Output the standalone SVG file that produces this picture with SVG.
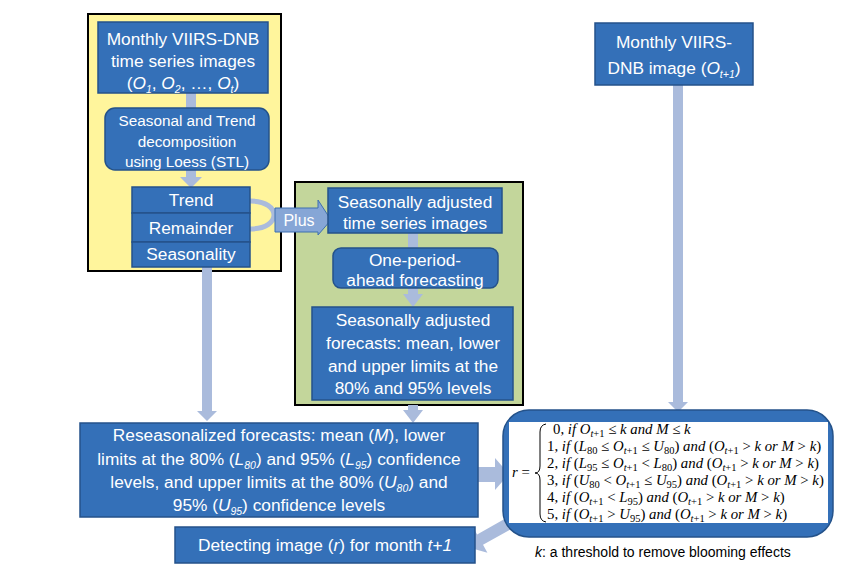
<svg xmlns="http://www.w3.org/2000/svg" width="865" height="579" viewBox="0 0 865 579">
<style>
.box{fill:#3470b8;stroke:#24528a;stroke-width:1.5}
.t{font-family:"Liberation Sans",Arial,sans-serif;fill:#fff;text-anchor:middle}
.f16{font-size:17.3px}
.f15{font-size:15.3px}
.arr{fill:#aabbdc;stroke:none}
.m{font-family:"Liberation Serif","Times New Roman",serif;font-size:14.8px;fill:#000}
.i{font-style:italic}
.s{font-size:10.5px}
</style>
<rect width="865" height="579" fill="#fff"/>
<g id="yellow-panel"><rect x="88" y="14" width="193" height="257" fill="#fff59c" stroke="#000" stroke-width="2"/></g>
<g id="green-panel"><rect x="295" y="182" width="228" height="223" fill="#c3d69b" stroke="#000" stroke-width="2"/></g>
<g id="connectors">
<rect class="arr" x="186" y="93" width="10" height="16"/>
<polygon class="arr" points="186,170 196,170 196,177 202,177 191,188 180,177 186,177"/>
<path d="M250,201 C282,201 282,229 250,229" fill="none" stroke="#aabbdc" stroke-width="5"/>
<polygon class="arr" points="202,267 212,267 212,411 217,411 207,421 197,411 202,411"/>
<polygon class="arr" points="673,85 683,85 683,402 688,402 678,412 668,402 673,402"/>
<rect class="arr" x="408" y="233" width="10" height="16"/>
<polygon class="arr" points="408,288 418,288 418,294 423,294 413,307 403,294 408,294"/>
<polygon class="arr" points="408,405 418,405 418,410 423,410 413,423 403,410 408,410"/>
<polygon class="arr" points="478,467 495,467 495,458 509,474 495,490 495,482 478,482"/>
<polygon class="arr" transform="translate(467,547) rotate(150.6)" points="0,0 -15,-15 -15,-6 -50,-6 -50,6 -15,6 -15,15"/>
<g id="plus">
<polygon points="275,208 318,208 318,200 331,220 318,235 318,232 275,232" fill="#86a6d6" stroke="#3d6fb0" stroke-width="1"/>
<text class="t" font-size="16" x="299" y="226">Plus</text>
</g>
</g>
<g id="n-monthly-series">
<rect class="box" x="98" y="22" width="170" height="71"/>
<text class="t f16" x="183" y="45">Monthly VIIRS-DNB</text>
<text class="t f16" x="183" y="67">time series images</text>
<text class="t f16" x="183" y="89">(<tspan class="i">O</tspan><tspan class="i s" dy="4">1</tspan><tspan dy="-4">, </tspan><tspan class="i">O</tspan><tspan class="i s" dy="4">2</tspan><tspan dy="-4">, …, </tspan><tspan class="i">O</tspan><tspan class="i s" dy="4">t</tspan><tspan dy="-4">)</tspan></text>
</g>
<g id="n-stl">
<rect class="box" x="105" y="108" width="164" height="62" rx="10"/>
<text class="t f15" x="187" y="126">Seasonal and Trend</text>
<text class="t f15" x="187" y="147">decomposition</text>
<text class="t f15" x="187" y="167">using Loess (STL)</text>
</g>
<g id="n-trend"><rect class="box" x="132" y="187" width="118" height="26"/><text class="t f16" x="191" y="206">Trend</text></g>
<g id="n-remainder"><rect class="box" x="132" y="213" width="118" height="29"/><text class="t f16" x="191" y="234">Remainder</text></g>
<g id="n-seasonality"><rect class="box" x="132" y="242" width="118" height="25"/><text class="t f16" x="191" y="260">Seasonality</text></g>
<g id="n-sa-series">
<rect class="box" x="328" y="188" width="174" height="45"/>
<text class="t f16" x="415" y="208">Seasonally adjusted</text>
<text class="t f16" x="415" y="229">time series images</text>
</g>
<g id="n-forecasting">
<rect class="box" x="333" y="248" width="165" height="40" rx="8"/>
<text class="t f16" x="415" y="266">One-period-</text>
<text class="t f16" x="415" y="286">ahead forecasting</text>
</g>
<g id="n-sa-forecasts">
<rect class="box" x="312" y="307" width="201" height="93"/>
<text class="t f16" x="413" y="326">Seasonally adjusted</text>
<text class="t f16" x="413" y="349">forecasts: mean, lower</text>
<text class="t f16" x="413" y="372">and upper limits at the</text>
<text class="t f16" x="413" y="394">80% and 95% levels</text>
</g>
<g id="n-monthly-next">
<rect class="box" x="595" y="23" width="158" height="62"/>
<text class="t f16" x="674" y="48">Monthly VIIRS-</text>
<text class="t f16" x="674" y="74">DNB image (<tspan class="i">O</tspan><tspan class="i s" dy="4">t+1</tspan><tspan dy="-4">)</tspan></text>
</g>
<g id="n-reseasonalized">
<rect class="box" x="80" y="423" width="398" height="94"/>
<text class="t f16" x="279" y="441">Reseasonalized forecasts: mean (<tspan class="i">M</tspan>), lower</text>
<text class="t f16" x="279" y="465">limits at the 80% (<tspan class="i">L</tspan><tspan class="i s" dy="4">80</tspan><tspan dy="-4">) and 95% (</tspan><tspan class="i">L</tspan><tspan class="i s" dy="4">95</tspan><tspan dy="-4">) confidence</tspan></text>
<text class="t f16" x="279" y="488">levels, and upper limits at the 80% (<tspan class="i">U</tspan><tspan class="i s" dy="4">80</tspan><tspan dy="-4">) and</tspan></text>
<text class="t f16" x="279" y="511">95% (<tspan class="i">U</tspan><tspan class="i s" dy="4">95</tspan><tspan dy="-4">) confidence levels</tspan></text>
</g>
<g id="n-detecting">
<rect class="box" x="175" y="527" width="300" height="36"/>
<text class="t f16" x="325" y="551">Detecting image (<tspan class="i">r</tspan>) for month <tspan class="i">t+1</tspan></text>
</g>
<g id="n-rule">
<rect class="box" x="503" y="410" width="330" height="127" rx="26" stroke-width="2"/>
<rect x="509" y="422" width="319" height="101" fill="#fff"/>
<text class="m" x="512" y="477"><tspan class="i">r</tspan> =</text>
<path d="M546,424 Q540,425 540,432 L540,466 Q540,473 535,473 Q540,473 540,480 L540,514 Q540,521 546,522" fill="none" stroke="#000" stroke-width="1"/>
<text class="m" x="553" y="434">0, <tspan class="i">if O</tspan><tspan class="s" dy="3"><tspan class="i">t</tspan>+1</tspan><tspan dy="-3"> ≤ </tspan><tspan class="i">k and M</tspan> ≤ <tspan class="i">k</tspan></text>
<text class="m" x="547" y="451">1, <tspan class="i">if</tspan> (<tspan class="i">L</tspan><tspan class="s" dy="3">80</tspan><tspan dy="-3"> ≤ </tspan><tspan class="i">O</tspan><tspan class="s" dy="3"><tspan class="i">t</tspan>+1</tspan><tspan dy="-3"> ≤ </tspan><tspan class="i">U</tspan><tspan class="s" dy="3">80</tspan><tspan dy="-3">) </tspan><tspan class="i">and</tspan> (<tspan class="i">O</tspan><tspan class="s" dy="3"><tspan class="i">t</tspan>+1</tspan><tspan dy="-3"> &gt; </tspan><tspan class="i">k or M</tspan> &gt; <tspan class="i">k</tspan>)</text>
<text class="m" x="547" y="468">2, <tspan class="i">if</tspan> (<tspan class="i">L</tspan><tspan class="s" dy="3">95</tspan><tspan dy="-3"> ≤ </tspan><tspan class="i">O</tspan><tspan class="s" dy="3"><tspan class="i">t</tspan>+1</tspan><tspan dy="-3"> &lt; </tspan><tspan class="i">L</tspan><tspan class="s" dy="3">80</tspan><tspan dy="-3">) </tspan><tspan class="i">and</tspan> (<tspan class="i">O</tspan><tspan class="s" dy="3"><tspan class="i">t</tspan>+1</tspan><tspan dy="-3"> &gt; </tspan><tspan class="i">k or M</tspan> &gt; <tspan class="i">k</tspan>)</text>
<text class="m" x="547" y="485">3, <tspan class="i">if</tspan> (<tspan class="i">U</tspan><tspan class="s" dy="3">80</tspan><tspan dy="-3"> &lt; </tspan><tspan class="i">O</tspan><tspan class="s" dy="3"><tspan class="i">t</tspan>+1</tspan><tspan dy="-3"> ≤ </tspan><tspan class="i">U</tspan><tspan class="s" dy="3">95</tspan><tspan dy="-3">) </tspan><tspan class="i">and</tspan> (<tspan class="i">O</tspan><tspan class="s" dy="3"><tspan class="i">t</tspan>+1</tspan><tspan dy="-3"> &gt; </tspan><tspan class="i">k or M</tspan> &gt; <tspan class="i">k</tspan>)</text>
<text class="m" x="547" y="502">4, <tspan class="i">if</tspan> (<tspan class="i">O</tspan><tspan class="s" dy="3"><tspan class="i">t</tspan>+1</tspan><tspan dy="-3"> &lt; </tspan><tspan class="i">L</tspan><tspan class="s" dy="3">95</tspan><tspan dy="-3">) </tspan><tspan class="i">and</tspan> (<tspan class="i">O</tspan><tspan class="s" dy="3"><tspan class="i">t</tspan>+1</tspan><tspan dy="-3"> &gt; </tspan><tspan class="i">k or M</tspan> &gt; <tspan class="i">k</tspan>)</text>
<text class="m" x="547" y="519">5, <tspan class="i">if</tspan> (<tspan class="i">O</tspan><tspan class="s" dy="3"><tspan class="i">t</tspan>+1</tspan><tspan dy="-3"> &gt; </tspan><tspan class="i">U</tspan><tspan class="s" dy="3">95</tspan><tspan dy="-3">) </tspan><tspan class="i">and</tspan> (<tspan class="i">O</tspan><tspan class="s" dy="3"><tspan class="i">t</tspan>+1</tspan><tspan dy="-3"> &gt; </tspan><tspan class="i">k or M</tspan> &gt; <tspan class="i">k</tspan>)</text>
</g>
<g id="note">
<text x="535" y="557" font-family="'Liberation Sans',Arial,sans-serif" font-size="14" fill="#000"><tspan font-style="italic">k</tspan>: a threshold to remove blooming effects</text>
</g>
</svg>
